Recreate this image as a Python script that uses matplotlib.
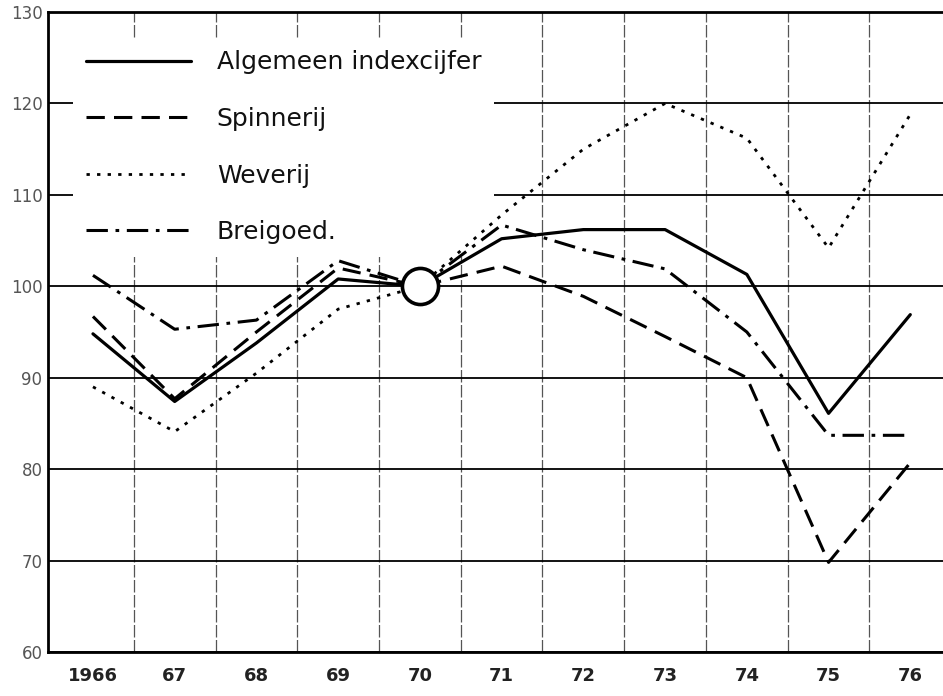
import numpy as np
import matplotlib
matplotlib.use('Agg')
import matplotlib.pyplot as plt

# index numbers, 1970 = 100
years = [1966, 1967, 1968, 1969, 1970, 1971, 1972, 1973, 1974, 1975, 1976]
algemeen = [94.8, 87.4, 93.8, 100.8, 100, 105.2, 106.2, 106.2, 101.3, 86.1, 96.9]
spinnerij = [96.7, 87.7, 95.0, 102.0, 100, 102.2, 98.9, 94.5, 90.0, 69.8, 80.7]
weverij = [89.0, 84.1, 90.5, 97.5, 100, 107.8, 115.0, 120.0, 116.2, 104.2, 118.8]
breigoed = [101.2, 95.3, 96.3, 102.8, 100, 106.7, 104.0, 101.9, 95.0, 83.7, 83.7]

labels = ['Algemeen indexcijfer', 'Spinnerij', 'Weverij', 'Breigoed.']
xticklabels = ['1966', '67', '68', '69', '70', '71', '72', '73', '74', '75', '76']
yticks = [60, 70, 80, 90, 100, 110, 120, 130]

fig = plt.figure(figsize=(9.43, 6.96), dpi=100, facecolor='white')
ax = fig.add_axes([48/943, 1 - 652/696, 895/943, 640/696])

ax.plot(years, algemeen, color='black', lw=2.3, solid_capstyle='round', label=labels[0], zorder=3)
ax.plot(years, spinnerij, color='black', lw=2.2, dashes=(6, 3), label=labels[1], zorder=3)
ax.plot(years, weverij, color='black', lw=2.0, dashes=(1.2, 2.6), label=labels[2], zorder=3)
ax.plot(years, breigoed, color='black', lw=2.2, dashes=(7, 2.5, 1.2, 2.5), label=labels[3], zorder=3)

# base year circle
ax.plot([1970], [100], marker='o', ms=26, mfc='white', mec='black', mew=2.6, zorder=4)

ax.set_xlim(1965.45, 1976.40)
ax.set_ylim(60, 130)
ax.set_xticks(years)
ax.set_xticklabels(xticklabels, fontsize=13, fontweight='bold', color='#222')
ax.set_xticks(np.arange(1966.5, 1976, 1), minor=True)
ax.set_yticks(yticks)
ax.set_yticklabels([str(v) for v in yticks], fontsize=12, color='#555')
ax.tick_params(axis='both', which='both', length=0)
ax.tick_params(axis='x', pad=11)
ax.tick_params(axis='y', pad=4)

ax.grid(which='major', axis='y', color='black', lw=1.3, zorder=1)
ax.grid(which='minor', axis='x', color='#555', lw=0.9, ls=(0, (10, 2)), zorder=1)
ax.set_axisbelow(True)

for side in ['left', 'bottom', 'top']:
    ax.spines[side].set_linewidth(2.0)
    ax.spines[side].set_color('black')
ax.spines['right'].set_visible(False)

leg = ax.legend(loc='upper left', bbox_to_anchor=(25/895, 1 - 26/640), borderaxespad=0,
                frameon=True, facecolor='white', edgecolor='none', framealpha=1,
                fontsize=18, handlelength=4.2, handletextpad=1.05, labelspacing=1.3,
                borderpad=0.5, fancybox=False)
leg.set_zorder(2.5)  # curves stay on top of the white legend box
for t in leg.get_texts():
    t.set_color('#111')

fig.savefig('out.png', dpi=100, facecolor='white')
